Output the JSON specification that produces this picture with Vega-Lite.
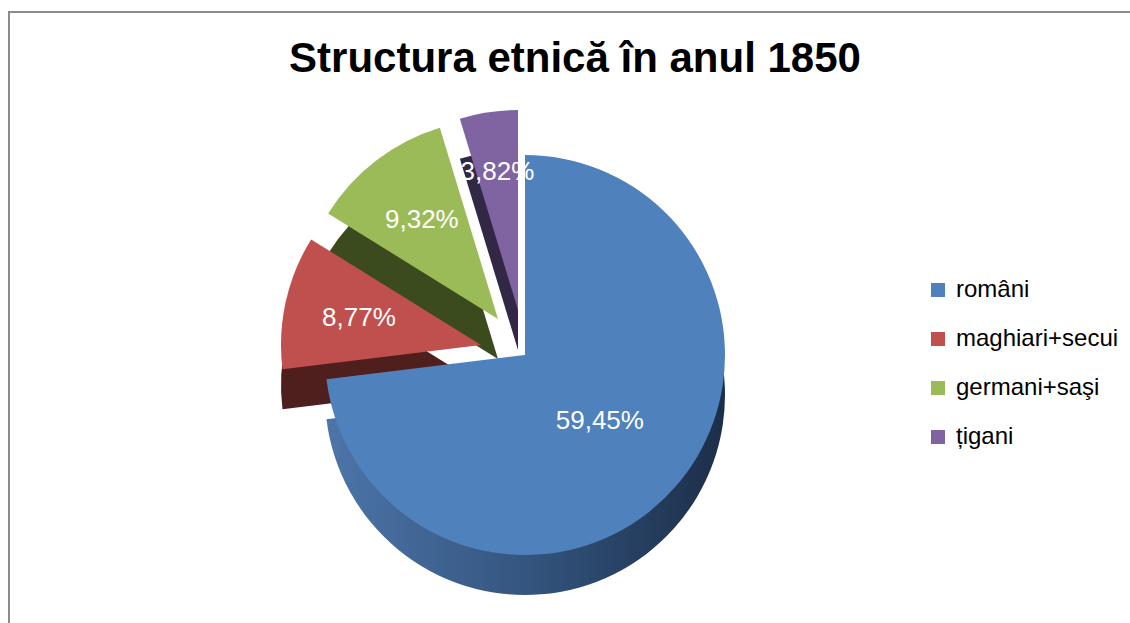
{
  "$schema": "https://vega.github.io/schema/vega-lite/v6.json",
  "width": 1132,
  "height": 640,
  "autosize": "none",
  "padding": {"left": 9, "top": 12, "right": 0, "bottom": 0},
  "background": "white",
  "view": {"stroke": "#8c8c8c", "strokeWidth": 2, "fill": "white"},
  "title": {"text": "Structura etnică în anul 1850", "font": "Liberation Sans", "fontSize": 42, "fontWeight": "bold", "color": "black", "anchor": "middle", "frame": "group", "baseline": "alphabetic", "offset": -61, "dy": 41},
  "config": {
    "view": {"stroke": "#8c8c8c", "strokeWidth": 2},
    "legend": {"orient": "none", "legendX": 917, "legendY": 266, "symbolType": "square", "symbolSize": 196, "symbolStrokeWidth": 0, "symbolOpacity": 1, "labelFont": "Liberation Sans", "labelFontSize": 24, "labelColor": "black", "labelOffset": 6, "labelLimit": 400, "rowPadding": 25, "padding": 0}
  },
  "data": {"values": [
    {"grup": "români", "procent": 59.45, "eticheta": "59,45%", "ordine": 1},
    {"grup": "maghiari+secui", "procent": 8.77, "eticheta": "8,77%", "ordine": 2},
    {"grup": "germani+saşi", "procent": 9.32, "eticheta": "9,32%", "ordine": 3},
    {"grup": "țigani", "procent": 3.82, "eticheta": "3,82%", "ordine": 4}
  ]},
  "encoding": {
    "theta": {"field": "procent", "type": "quantitative", "stack": true},
    "order": {"field": "ordine", "type": "quantitative"}
  },
  "layer": [
    {"mark": {"type": "arc", "x": 516, "y": 383, "radius": 200, "fill": {"gradient": "linear", "x1": 0, "y1": 0, "x2": 1, "y2": 0, "stops": [{"offset": 0, "color": "#4d75a9"}, {"offset": 0.5, "color": "#34557f"}, {"offset": 1, "color": "#1c2e49"}]}},
     "encoding": {"detail": {"field": "grup"}, "opacity": {"condition": {"test": "datum.grup === 'români'", "value": 1}, "value": 0}}},
    {"mark": {"type": "arc", "x": 472, "y": 373, "radius": 200, "fill": "#4f1f1e"},
     "encoding": {"detail": {"field": "grup"}, "opacity": {"condition": {"test": "datum.grup === 'maghiari+secui'", "value": 1}, "value": 0}}},
    {"mark": {"type": "arc", "x": 489, "y": 347, "radius": 200, "fill": "#3c4b1d"},
     "encoding": {"detail": {"field": "grup"}, "opacity": {"condition": {"test": "datum.grup === 'germani+saşi'", "value": 1}, "value": 0}}},
    {"mark": {"type": "arc", "x": 509, "y": 338, "radius": 200, "fill": "#322745"},
     "encoding": {"detail": {"field": "grup"}, "opacity": {"condition": {"test": "datum.grup === 'țigani'", "value": 1}, "value": 0}}},
    {"mark": {"type": "arc", "x": 516, "y": 343, "radius": 200},
     "encoding": {"color": {"field": "grup", "type": "nominal", "scale": {"domain": ["români", "maghiari+secui", "germani+saşi", "țigani"], "range": ["#4F81BD", "#C0504D", "#9BBB59", "#8064A2"]}, "legend": {"title": null}}, "opacity": {"condition": {"test": "datum.grup === 'români'", "value": 1}, "value": 0}}},
    {"mark": {"type": "arc", "x": 472, "y": 333, "radius": 200},
     "encoding": {"color": {"field": "grup", "type": "nominal"}, "opacity": {"condition": {"test": "datum.grup === 'maghiari+secui'", "value": 1}, "value": 0}}},
    {"mark": {"type": "arc", "x": 489, "y": 307, "radius": 200},
     "encoding": {"color": {"field": "grup", "type": "nominal"}, "opacity": {"condition": {"test": "datum.grup === 'germani+saşi'", "value": 1}, "value": 0}}},
    {"mark": {"type": "arc", "x": 509, "y": 298, "radius": 200},
     "encoding": {"color": {"field": "grup", "type": "nominal"}, "opacity": {"condition": {"test": "datum.grup === 'țigani'", "value": 1}, "value": 0}}},
    {"mark": {"type": "text", "x": 516, "y": 343, "radius": 100, "font": "Liberation Sans", "fontSize": 26, "color": "white", "align": "center", "baseline": "middle"},
     "encoding": {"detail": {"field": "grup"}, "text": {"condition": {"test": "datum.grup === 'români'", "field": "eticheta"}, "value": ""}}},
    {"mark": {"type": "text", "x": 472, "y": 333, "radius": 125, "font": "Liberation Sans", "fontSize": 26, "color": "white", "align": "center", "baseline": "middle"},
     "encoding": {"detail": {"field": "grup"}, "text": {"condition": {"test": "datum.grup === 'maghiari+secui'", "field": "eticheta"}, "value": ""}}},
    {"mark": {"type": "text", "x": 489, "y": 307, "radius": 125, "font": "Liberation Sans", "fontSize": 26, "color": "white", "align": "center", "baseline": "middle"},
     "encoding": {"detail": {"field": "grup"}, "text": {"condition": {"test": "datum.grup === 'germani+saşi'", "field": "eticheta"}, "value": ""}}},
    {"mark": {"type": "text", "x": 509, "y": 298, "radius": 140, "font": "Liberation Sans", "fontSize": 26, "color": "white", "align": "center", "baseline": "middle"},
     "encoding": {"detail": {"field": "grup"}, "text": {"condition": {"test": "datum.grup === 'țigani'", "field": "eticheta"}, "value": ""}}}
  ]
}
